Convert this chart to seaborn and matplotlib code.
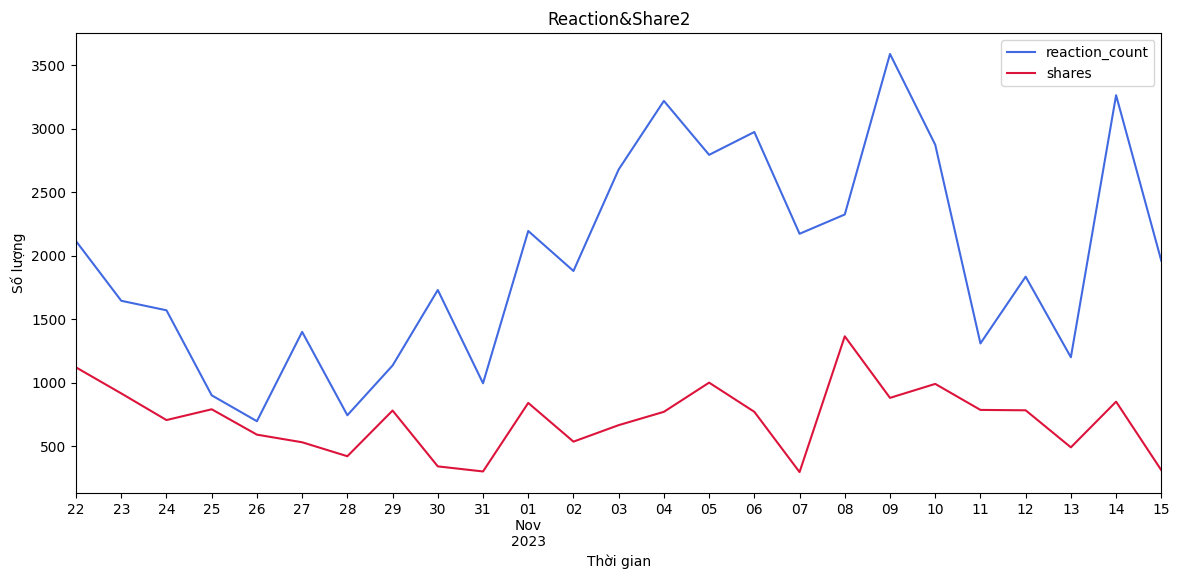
import matplotlib
matplotlib.use("Agg")
import matplotlib.pyplot as plt
import matplotlib.dates as mdates
from matplotlib.ticker import FuncFormatter
import seaborn as sns
import pandas as pd

dates = pd.date_range("2023-10-22", "2023-11-15", freq="D")
reaction_count = [2115, 1645, 1570, 900, 696, 1400, 743, 1135, 1730, 995,
                  2195, 1880, 2680, 3220, 2795, 2975, 2173, 2325, 3590, 2875,
                  1309, 1835, 1200, 3265, 1960]
shares = [1120, 915, 705, 790, 590, 530, 420, 780, 340, 300,
          840, 535, 665, 770, 1000, 770, 295, 1365, 880, 990,
          785, 782, 490, 850, 310]

df = pd.DataFrame({"date": dates, "reaction_count": reaction_count, "shares": shares})
long = df.melt(id_vars="date", var_name="series", value_name="value")

fig, ax = plt.subplots(figsize=(11.79, 5.8), dpi=100)
fig.subplots_adjust(left=0.0645, right=0.985, top=0.943, bottom=0.15)
sns.lineplot(data=long, x="date", y="value", hue="series",
             palette={"reaction_count": "royalblue", "shares": "crimson"}, ax=ax)
ax.set_xlim(dates[0], dates[-1])
ax.xaxis.set_major_locator(mdates.DayLocator())
def fmt(x, pos):
    d = mdates.num2date(x)
    if d.day == 1:
        return d.strftime("%d\n%b\n%Y")
    return d.strftime("%d")
ax.xaxis.set_major_formatter(FuncFormatter(fmt))
ax.set_title("Reaction&Share2")
ax.set_xlabel("Thời gian")
ax.set_ylabel("Số lượng")
ax.legend(title=None, loc="upper right")
fig.savefig("out.png")
